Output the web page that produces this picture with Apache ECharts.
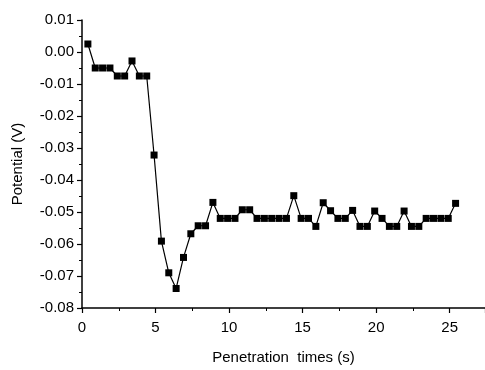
<!DOCTYPE html>
<html>
<head>
<meta charset="utf-8">
<script src="https://cdn.jsdelivr.net/npm/echarts@6/dist/echarts.min.js"></script>
<style>
  html, body { margin: 0; padding: 0; background: #fff; }
  #main { width: 485px; height: 370px; }
</style>
</head>
<body>
<div id="main"></div>
<script>
// penetration time (s)
var times = [0.4, 0.9, 1.4, 1.9, 2.4, 2.9, 3.4, 3.9, 4.4, 4.9,
             5.4, 5.9, 6.4, 6.9, 7.4, 7.9, 8.4, 8.9, 9.4, 9.9,
             10.4, 10.9, 11.4, 11.9, 12.4, 12.9, 13.4, 13.9, 14.4, 14.9,
             15.4, 15.9, 16.4, 16.9, 17.4, 17.9, 18.4, 18.9, 19.4, 19.9,
             20.4, 20.9, 21.4, 21.9, 22.4, 22.9, 23.4, 23.9, 24.4, 24.9,
             25.4];
// potential (V)
var potential = [0.0025, -0.005, -0.005, -0.005, -0.0075, -0.0075, -0.0028, -0.0075, -0.0075, -0.0322,
                 -0.0591, -0.069, -0.0739, -0.0642, -0.0568, -0.0543, -0.0543, -0.047, -0.052, -0.052,
                 -0.052, -0.0493, -0.0493, -0.052, -0.052, -0.052, -0.052, -0.052, -0.0449, -0.052,
                 -0.052, -0.0545, -0.0471, -0.0496, -0.052, -0.052, -0.0495, -0.0545, -0.0545, -0.0497,
                 -0.052, -0.0545, -0.0545, -0.0497, -0.0545, -0.0545, -0.052, -0.052, -0.052, -0.052,
                 -0.0473];

var font = 'Liberation Sans, Arial, sans-serif';
var chart = echarts.init(document.getElementById('main'));

var pts = times.map(function (t, i) { return [t, potential[i]]; });

var option = {
    animation: false,
    backgroundColor: '#fff',
    grid: { left: 82, right: 0, top: 20, bottom: 61 },
    xAxis: {
        type: 'value',
        min: 0,
        max: 27.4,
        interval: 5,
        name: 'Penetration  times (s)',
        nameLocation: 'middle',
        nameGap: 42,
        nameTextStyle: { fontFamily: font, fontSize: 15, color: '#000' },
        axisLine: { show: true, onZero: false, lineStyle: { color: '#000', width: 1.5 } },
        axisTick: { show: true, length: 5, lineStyle: { color: '#000', width: 1.2 } },
        minorTick: { show: true, splitNumber: 2, length: 3, lineStyle: { color: '#000', width: 1 } },
        axisLabel: { fontFamily: font, fontSize: 15, color: '#000', margin: 12, showMaxLabel: false },
        splitLine: { show: false }
    },
    yAxis: {
        type: 'value',
        min: -0.08,
        max: 0.01,
        interval: 0.01,
        name: 'Potential (V)',
        nameLocation: 'middle',
        nameGap: 57,
        nameTextStyle: { fontFamily: font, fontSize: 15, color: '#000' },
        axisLine: { show: true, onZero: false, lineStyle: { color: '#000', width: 1.5 } },
        axisTick: { show: true, length: 5, lineStyle: { color: '#000', width: 1.2 } },
        minorTick: { show: true, splitNumber: 2, length: 3, lineStyle: { color: '#000', width: 1 } },
        axisLabel: {
            fontFamily: font, fontSize: 15, color: '#000', margin: 8,
            formatter: function (v) { return v.toFixed(2); }
        },
        splitLine: { show: false }
    },
    series: [{
        type: 'line',
        data: pts,
        symbol: 'rect',
        symbolSize: 7,
        itemStyle: { color: '#000' },
        lineStyle: { color: '#000', width: 1.2 }
    }]
};

chart.setOption(option);
</script>
</body>
</html>
